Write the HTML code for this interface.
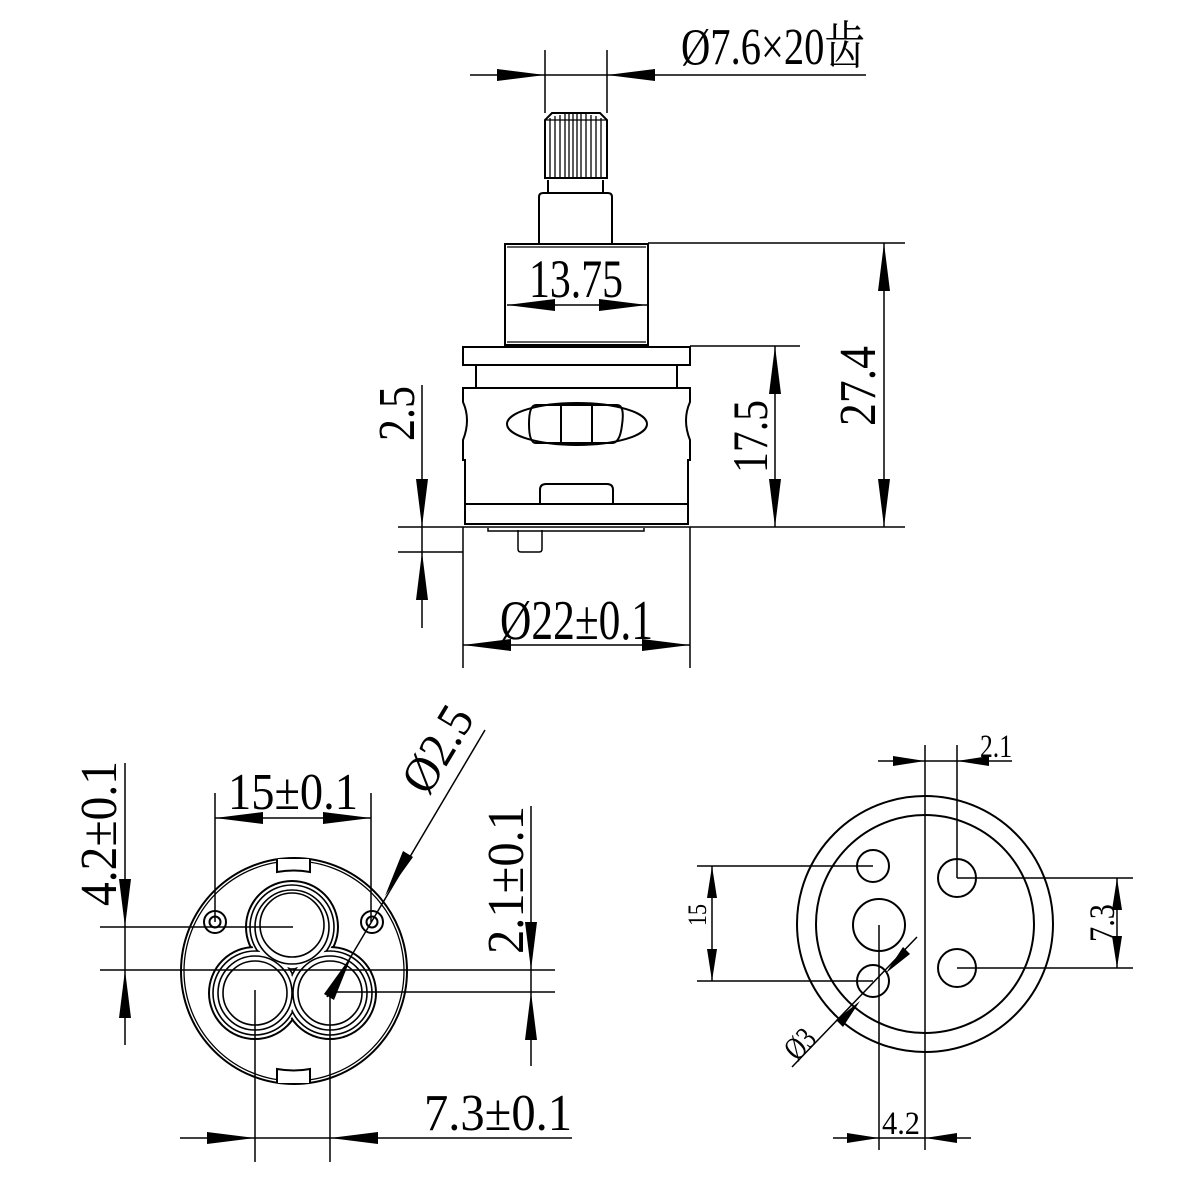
<!DOCTYPE html>
<html><head><meta charset="utf-8"><style>
html,body{margin:0;padding:0;background:#fff}
svg{display:block}
text{font-family:"Liberation Serif","Noto Serif CJK SC",serif;fill:#000}
</style></head><body>
<svg width="1200" height="1200" viewBox="0 0 1200 1200" xmlns="http://www.w3.org/2000/svg">
<rect width="1200" height="1200" fill="#fff"/>
<g stroke="#000" stroke-width="2" fill="none">
<path d="M545,178 L545,120 L552,113 L600,113 L607,120 L607,178 Z"/>
<g stroke-width="1.3">
<line x1="550" y1="118" x2="550" y2="178"/><line x1="555" y1="116" x2="555" y2="178"/>
<line x1="560" y1="115" x2="560" y2="178"/><line x1="565" y1="114" x2="565" y2="178"/>
<line x1="569" y1="114" x2="569" y2="178"/><line x1="573" y1="114" x2="573" y2="178"/>
<line x1="577" y1="114" x2="577" y2="178"/><line x1="581" y1="114" x2="581" y2="178"/>
<line x1="586" y1="114" x2="586" y2="178"/><line x1="591" y1="115" x2="591" y2="178"/>
<line x1="596" y1="116" x2="596" y2="178"/><line x1="601" y1="118" x2="601" y2="178"/>
<line x1="545" y1="120" x2="607" y2="120"/>
</g>
<path d="M548,180 L548,193 M603,180 L603,193 M548,193 L603,193"/>
<path d="M539,243 L539,197 Q539,193 543,193 L608,193 Q612,193 612,197 L612,243"/>
<rect x="505" y="244" width="143" height="101"/>
<line x1="507" y1="247" x2="646" y2="247" stroke-width="1.3"/>
<line x1="507" y1="342" x2="646" y2="342" stroke-width="1.3"/>
<rect x="463" y="347" width="227" height="18"/>
<line x1="476" y1="365" x2="476" y2="388"/><line x1="677" y1="365" x2="677" y2="388"/>
<path d="M463,388 L690,388 L690,402 Q682,420 690,440 L690,460 L688,460 L688,504 L465,504 L465,460 L463,460 L463,440 Q471,420 463,402 Z"/>
<ellipse cx="577" cy="424" rx="70" ry="21"/>
<path d="M536,405 L617,405 Q625,405 622,425 Q620,443 612,443 L536,443 Q529,443 529,424 Q529,405 536,405 Z"/>
<line x1="561" y1="406" x2="561" y2="442"/><line x1="592" y1="406" x2="592" y2="442"/>
<path d="M540,504 L540,490 Q540,484 546,484 L607,484 Q613,484 613,490 L613,504"/>
<rect x="465" y="504" width="223" height="20"/>
<path d="M488,528 L488,531 L644,531 L644,528" stroke-width="1.5"/>
<path d="M518,530 L518,549 Q518,552 521,552 L539,552 Q542,552 542,549 L542,530" stroke-width="1.5"/>
<g stroke-width="1.5">
<line x1="470" y1="75" x2="866" y2="75"/>
<line x1="545" y1="50" x2="545" y2="113"/><line x1="607" y1="50" x2="607" y2="113"/>
<line x1="507" y1="305" x2="647" y2="305"/>
<line x1="648" y1="243" x2="905" y2="243"/>
<line x1="690" y1="346" x2="800" y2="346"/>
<line x1="398" y1="527" x2="905" y2="527"/>
<line x1="398" y1="552" x2="463" y2="552"/>
<line x1="422" y1="385" x2="422" y2="628"/>
<line x1="775" y1="346" x2="775" y2="527"/>
<line x1="884" y1="243" x2="884" y2="527"/>
<line x1="463" y1="527" x2="463" y2="668"/><line x1="690" y1="527" x2="690" y2="668"/>
<line x1="463" y1="645" x2="690" y2="645"/>
</g>
</g>
<g fill="#000" stroke="none">
<polygon points="545,75 497,69 497,81"/><polygon points="607,75 655,69 655,81"/>
<polygon points="507,305 555,299 555,311"/><polygon points="647,305 599,299 599,311"/>
<polygon points="422,527 416,479 428,479"/><polygon points="422,552 416,600 428,600"/>
<polygon points="775,346 769,394 781,394"/><polygon points="775,527 769,479 781,479"/>
<polygon points="884,243 878,291 890,291"/><polygon points="884,527 878,479 890,479"/>
<polygon points="463,645 511,639 511,651"/><polygon points="690,645 642,639 642,651"/>
</g>
<text x="681" y="64" font-size="52" textLength="184" lengthAdjust="spacingAndGlyphs">Ø7.6×20齿</text>
<text x="529" y="297" font-size="54" textLength="94" lengthAdjust="spacingAndGlyphs">13.75</text>
<text x="500" y="639" font-size="56" textLength="153" lengthAdjust="spacingAndGlyphs">Ø22±0.1</text>
<text transform="translate(414,441) rotate(-90)" font-size="52" textLength="55" lengthAdjust="spacingAndGlyphs">2.5</text>
<text transform="translate(767,473) rotate(-90)" font-size="50" textLength="73" lengthAdjust="spacingAndGlyphs">17.5</text>
<text transform="translate(875,426) rotate(-90)" font-size="52" textLength="80" lengthAdjust="spacingAndGlyphs">27.4</text>

<g stroke="#000" stroke-width="2" fill="none">
<circle cx="294" cy="971" r="113"/>
<circle cx="294" cy="971" r="110" stroke-width="1.3"/>
<path d="M277,859 L277,872 Q294,869 310,872 L310,859" fill="#fff"/>
<path d="M277,1083 L277,1069 Q294,1072 310,1069 L310,1083" fill="#fff"/>
<circle cx="215" cy="922" r="11"/><circle cx="215" cy="922" r="5.5"/>
<circle cx="372" cy="922" r="11"/><circle cx="372" cy="922" r="5.5"/>
</g>
<g stroke="#000" stroke-width="2" fill="#fff">
<circle cx="292" cy="927" r="46"/><circle cx="255" cy="993" r="46"/><circle cx="330" cy="993" r="46"/>
</g>
<g fill="#fff" stroke="none">
<circle cx="292" cy="927" r="44"/><circle cx="255" cy="993" r="44"/><circle cx="330" cy="993" r="44"/>
</g>
<g stroke="#000" stroke-width="1.6" fill="#fff">
<circle cx="292" cy="927" r="42"/><circle cx="255" cy="993" r="42"/><circle cx="330" cy="993" r="42"/>
</g>
<g fill="#fff" stroke="none">
<circle cx="292" cy="927" r="40.5"/><circle cx="255" cy="993" r="40.5"/><circle cx="330" cy="993" r="40.5"/>
</g>
<g stroke="#000" stroke-width="1.6" fill="none">
<circle cx="292" cy="927" r="37"/><circle cx="255" cy="993" r="37"/><circle cx="330" cy="993" r="37"/>
<circle cx="292" cy="925" r="32"/>
<circle cx="255" cy="993" r="32"/><circle cx="330" cy="993" r="32"/>
</g>
<g stroke="#000" stroke-width="1.5" fill="none">
<line x1="100" y1="927" x2="293" y2="927"/>
<line x1="100" y1="970" x2="555" y2="970"/>
<line x1="330" y1="992" x2="555" y2="992"/>
<line x1="255" y1="990" x2="255" y2="1162"/><line x1="330" y1="992" x2="330" y2="1162"/>
<line x1="215" y1="793" x2="215" y2="922"/><line x1="371" y1="793" x2="371" y2="922"/>
<line x1="215" y1="818" x2="371" y2="818"/>
<line x1="125" y1="763" x2="125" y2="1045"/>
<line x1="531" y1="806" x2="531" y2="1066"/>
<line x1="180" y1="1138" x2="572" y2="1138"/>
<line x1="485" y1="730" x2="327" y2="997"/>
</g>
<g fill="#000" stroke="none">
<polygon points="215,818 263,812 263,824"/><polygon points="371,818 323,812 323,824"/>
<polygon points="125,927 119,879 131,879"/><polygon points="125,970 119,1018 131,1018"/>
<polygon points="531,970 525,922 537,922"/><polygon points="531,992 525,1040 537,1040"/>
<polygon points="255,1138 207,1132 207,1144"/><polygon points="330,1138 378,1132 378,1144"/>
<polygon points="385,896 403,851 413,857"/><polygon points="352,955 334,1000 324,994"/>
</g>
<text x="228" y="809" font-size="52" textLength="130" lengthAdjust="spacingAndGlyphs">15±0.1</text>
<text x="424" y="1130" font-size="52" textLength="148" lengthAdjust="spacingAndGlyphs">7.3±0.1</text>
<text transform="translate(116,906) rotate(-90)" font-size="52" textLength="145" lengthAdjust="spacingAndGlyphs">4.2±0.1</text>
<text transform="translate(523,954) rotate(-90)" font-size="52" textLength="148" lengthAdjust="spacingAndGlyphs">2.1±0.1</text>
<text transform="translate(428,797) rotate(-59)" font-size="50" textLength="92" lengthAdjust="spacingAndGlyphs">Ø2.5</text>

<g stroke="#000" stroke-width="2" fill="none">
<circle cx="925" cy="924" r="128"/>
<circle cx="925" cy="924" r="109"/>
<circle cx="873" cy="866" r="16"/>
<circle cx="957" cy="878" r="19"/>
<circle cx="879" cy="925" r="26"/>
<circle cx="873" cy="981" r="16"/>
<circle cx="957" cy="968" r="19"/>
</g>
<g stroke="#000" stroke-width="1.5" fill="none">
<line x1="925" y1="745" x2="925" y2="1150"/>
<line x1="957" y1="745" x2="957" y2="878"/>
<line x1="879" y1="925" x2="879" y2="1150"/>
<line x1="878" y1="761" x2="1012" y2="761"/>
<line x1="697" y1="866" x2="873" y2="866"/>
<line x1="697" y1="981" x2="873" y2="981"/>
<line x1="712" y1="866" x2="712" y2="981"/>
<line x1="957" y1="878" x2="1133" y2="878"/>
<line x1="957" y1="968" x2="1133" y2="968"/>
<line x1="1117" y1="878" x2="1117" y2="968"/>
<line x1="833" y1="1138" x2="971" y2="1138"/>
<line x1="792" y1="1067" x2="917" y2="937"/>
</g>
<g fill="#000" stroke="none">
<polygon points="925,761 893,756 893,766"/><polygon points="957,761 989,756 989,766"/>
<polygon points="712,866 707,898 717,898"/><polygon points="712,981 707,949 717,949"/>
<polygon points="1117,878 1112,910 1122,910"/><polygon points="1117,968 1112,936 1122,936"/>
<polygon points="879,1138 847,1133 847,1143"/><polygon points="925,1138 957,1133 957,1143"/>
<polygon points="860,1001 836,1020 843,1027"/><polygon points="886,973 910,954 903,947"/>
</g>
<text x="980" y="757" font-size="33" textLength="32" lengthAdjust="spacingAndGlyphs">2.1</text>
<text x="882" y="1134" font-size="33" textLength="38" lengthAdjust="spacingAndGlyphs">4.2</text>
<text transform="translate(706,926) rotate(-90)" font-size="26" textLength="22" lengthAdjust="spacingAndGlyphs">15</text>
<text transform="translate(1114,942) rotate(-90)" font-size="36" textLength="38" lengthAdjust="spacingAndGlyphs">7.3</text>
<text transform="translate(797,1062) rotate(-46)" font-size="32" textLength="30" lengthAdjust="spacingAndGlyphs">Ø3</text>
</svg>
</body></html>
